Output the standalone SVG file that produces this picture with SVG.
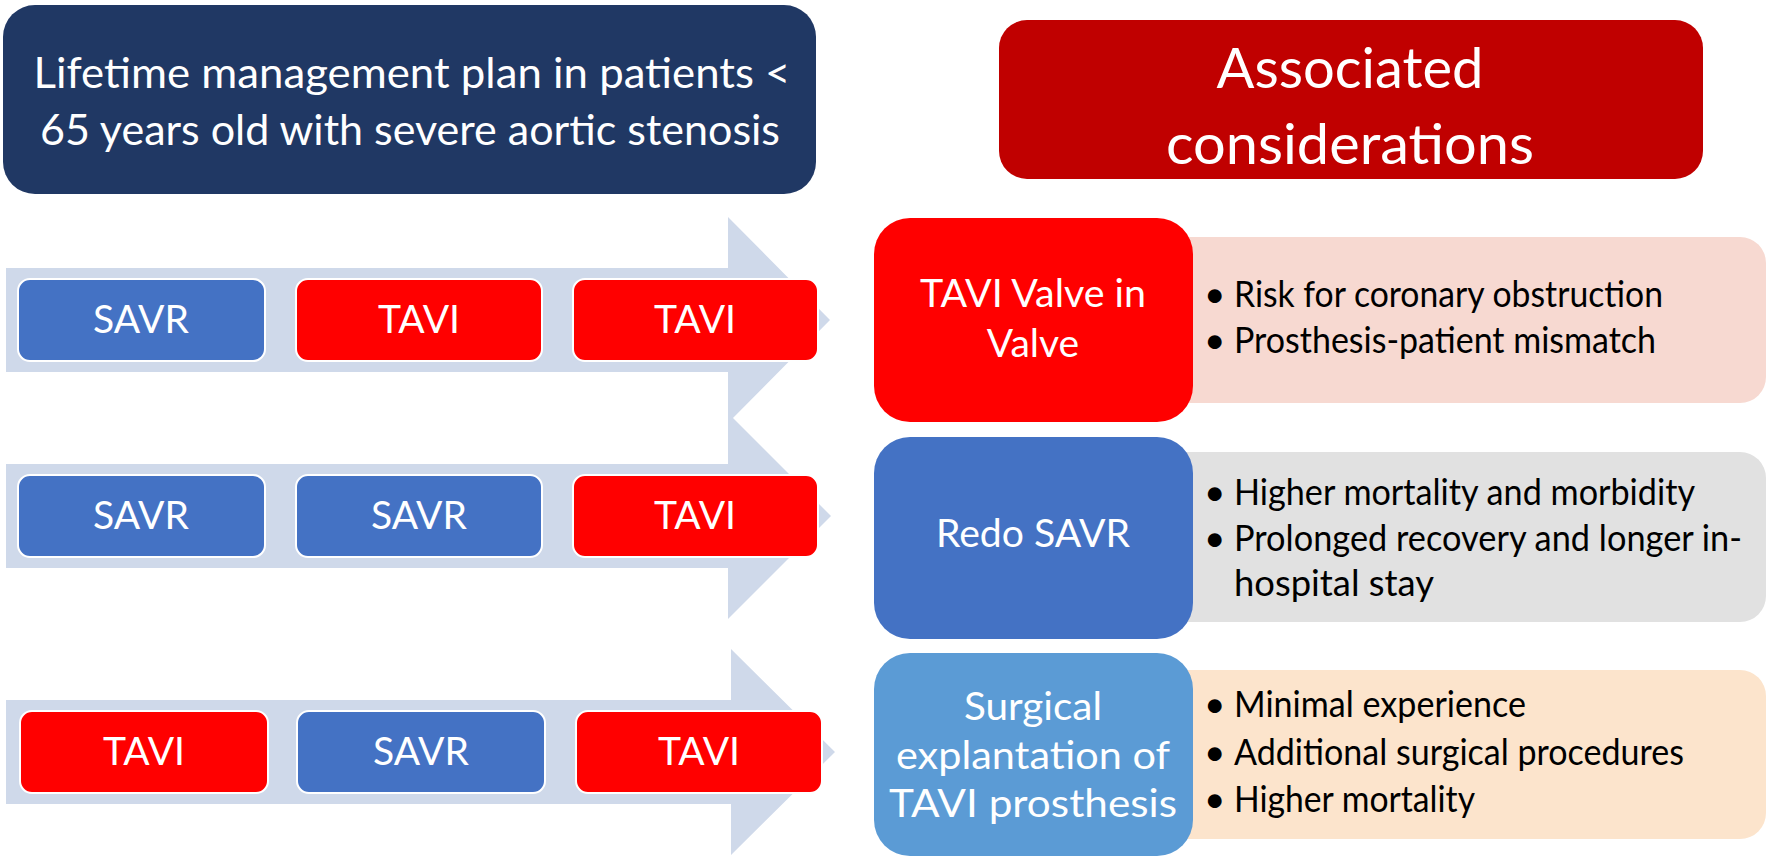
<svg xmlns="http://www.w3.org/2000/svg" width="1772" height="862" viewBox="0 0 1772 862">
<style>
text{font-family:Lato,"Open Sans","Liberation Sans",sans-serif;}
.w{fill:#fff;text-anchor:middle;}
.k{fill:#000;}
.arrow{fill:#CFD9EA;}
.step{stroke:#fff;stroke-width:2;}
.blue{fill:#4472C4;}
.red{fill:#FF0000;}
.st{font-size:39px;}
.bl{font-size:37px;}
.ct{font-size:39px;}
</style>
<rect width="1772" height="862" fill="#fff"/>
<g id="title-left">
<rect x="3" y="5" width="813" height="189" rx="32" fill="#203864"/>
<text class="w" x="412" y="88" font-size="43" textLength="757" lengthAdjust="spacingAndGlyphs">Lifetime management plan in patients &lt;</text>
<text class="w" x="410" y="145" font-size="43" textLength="740" lengthAdjust="spacingAndGlyphs">65 years old with severe aortic stenosis</text>
</g>
<g id="title-right">
<rect x="999" y="20" width="704" height="159" rx="28" fill="#C00000"/>
<text class="w" x="1350" y="88" font-size="56" textLength="267" lengthAdjust="spacingAndGlyphs">Associated</text>
<text class="w" x="1350" y="164" font-size="56" textLength="368" lengthAdjust="spacingAndGlyphs">considerations</text>
</g>
<g id="connectors">
<polygon class="arrow" points="6,268 728,268 728,217 830,320 728,423 728,372 6,372"/>
<polygon class="arrow" points="6,464 728,464 728,413 831,516 728,619 728,568 6,568"/>
<polygon class="arrow" points="6,700 731,700 731,649 835,752 731,855 731,804 6,804"/>
</g>
<g id="row1">
<rect class="step blue" x="18" y="279" width="247" height="82" rx="12"/>
<text class="w st" x="141" y="333">SAVR</text>
<rect class="step red" x="296" y="279" width="246" height="82" rx="12"/>
<text class="w st" x="419" y="333">TAVI</text>
<rect class="step red" x="573" y="279" width="245" height="82" rx="12"/>
<text class="w st" x="695" y="333">TAVI</text>
</g>
<g id="row2">
<rect class="step blue" x="18" y="475" width="247" height="82" rx="12"/>
<text class="w st" x="141" y="529">SAVR</text>
<rect class="step blue" x="296" y="475" width="246" height="82" rx="12"/>
<text class="w st" x="419" y="529">SAVR</text>
<rect class="step red" x="573" y="475" width="245" height="82" rx="12"/>
<text class="w st" x="695" y="529">TAVI</text>
</g>
<g id="row3">
<rect class="step red" x="20" y="711" width="248" height="82" rx="12"/>
<text class="w st" x="144" y="765">TAVI</text>
<rect class="step blue" x="297" y="711" width="248" height="82" rx="12"/>
<text class="w st" x="421" y="765">SAVR</text>
<rect class="step red" x="576" y="711" width="246" height="82" rx="12"/>
<text class="w st" x="699" y="765">TAVI</text>
</g>
<g id="consider1">
<rect x="1160" y="237" width="606" height="166" rx="26" fill="#F7D9D1"/>
<rect x="874" y="218" width="319" height="204" rx="36" fill="#FF0000"/>
<text class="w ct" x="1033" y="307" textLength="226" lengthAdjust="spacingAndGlyphs">TAVI Valve in</text>
<text class="w ct" x="1033" y="357">Valve</text>
<text class="k bl" x="1204" y="307">•</text>
<text class="k bl" x="1234" y="307" textLength="429" lengthAdjust="spacingAndGlyphs">Risk for coronary obstruction</text>
<text class="k bl" x="1204" y="353">•</text>
<text class="k bl" x="1234" y="353" textLength="422" lengthAdjust="spacingAndGlyphs">Prosthesis-patient mismatch</text>
</g>
<g id="consider2">
<rect x="1160" y="452" width="606" height="170" rx="26" fill="#E1E1E1"/>
<rect x="874" y="437" width="319" height="202" rx="36" fill="#4472C4"/>
<text class="w ct" x="1033" y="547" textLength="194" lengthAdjust="spacingAndGlyphs">Redo SAVR</text>
<text class="k bl" x="1204" y="505">•</text>
<text class="k bl" x="1234" y="505" textLength="461" lengthAdjust="spacingAndGlyphs">Higher mortality and morbidity</text>
<text class="k bl" x="1204" y="551">•</text>
<text class="k bl" x="1234" y="551" textLength="508" lengthAdjust="spacingAndGlyphs">Prolonged recovery and longer in-</text>
<text class="k bl" x="1234" y="596" textLength="200" lengthAdjust="spacingAndGlyphs">hospital stay</text>
</g>
<g id="consider3">
<rect x="1160" y="670" width="606" height="169" rx="26" fill="#FCE4CC"/>
<rect x="874" y="653" width="319" height="203" rx="36" fill="#5B9BD5"/>
<text class="w ct" x="1033" y="720" textLength="138" lengthAdjust="spacingAndGlyphs">Surgical</text>
<text class="w ct" x="1033" y="769" textLength="274" lengthAdjust="spacingAndGlyphs">explantation of</text>
<text class="w ct" x="1033" y="817" textLength="288" lengthAdjust="spacingAndGlyphs">TAVI prosthesis</text>
<text class="k bl" x="1204" y="717">•</text>
<text class="k bl" x="1234" y="717" textLength="292" lengthAdjust="spacingAndGlyphs">Minimal experience</text>
<text class="k bl" x="1204" y="765">•</text>
<text class="k bl" x="1234" y="765" textLength="450" lengthAdjust="spacingAndGlyphs">Additional surgical procedures</text>
<text class="k bl" x="1204" y="812">•</text>
<text class="k bl" x="1234" y="812" textLength="241" lengthAdjust="spacingAndGlyphs">Higher mortality</text>
</g>
</svg>
